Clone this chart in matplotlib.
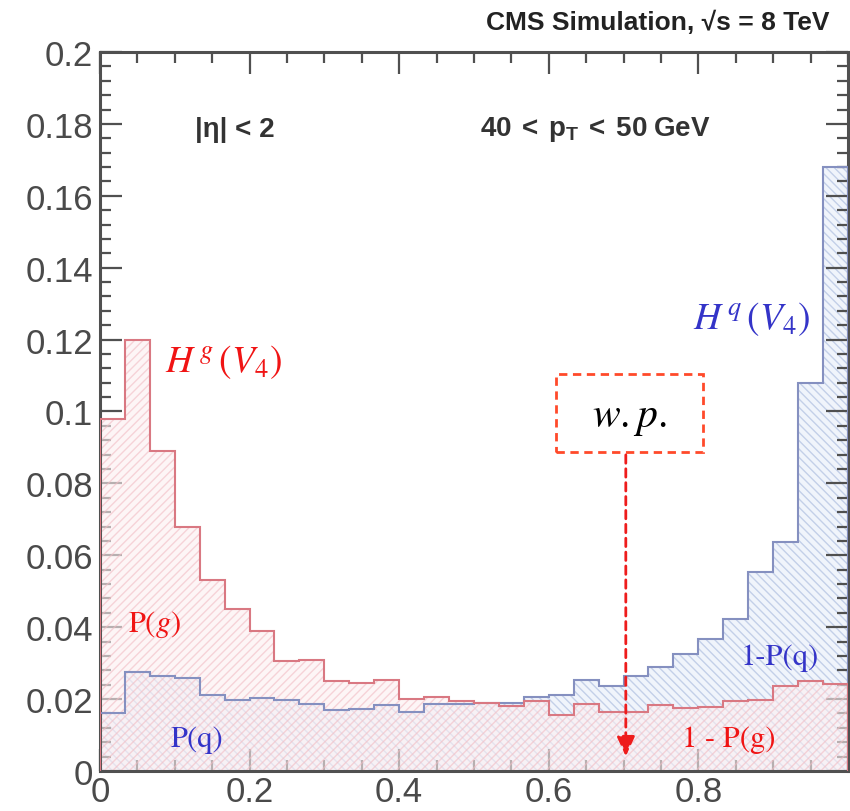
import numpy as np
import matplotlib
matplotlib.use("Agg")
import matplotlib.pyplot as plt
from matplotlib.patches import Rectangle

# V4 discriminant histograms, 30 bins on [0, 1]
bin_edges = np.linspace(0.0, 1.0, 31)
gluon = [0.098, 0.120, 0.089, 0.068, 0.053, 0.045, 0.039, 0.0305, 0.031, 0.025,
         0.0244, 0.0254, 0.020, 0.0205, 0.0194, 0.019, 0.018, 0.0194, 0.0155, 0.0185,
         0.0163, 0.0163, 0.0183, 0.0174, 0.0178, 0.0195, 0.0197, 0.0236, 0.025, 0.0241]
quark = [0.016, 0.0275, 0.0263, 0.026, 0.0212, 0.0198, 0.0204, 0.0198, 0.0185, 0.017,
         0.0172, 0.0183, 0.0165, 0.0185, 0.0185, 0.0188, 0.019, 0.0205, 0.021, 0.0254,
         0.0236, 0.0264, 0.029, 0.0324, 0.0366, 0.0422, 0.0553, 0.0638, 0.108, 0.168]

xticks = [0, 0.2, 0.4, 0.6, 0.8]
xticklabels = ["0", "0.2", "0.4", "0.6", "0.8"]
yticks = [0, 0.02, 0.04, 0.06, 0.08, 0.1, 0.12, 0.14, 0.16, 0.18, 0.2]
yticklabels = ["0", "0.02", "0.04", "0.06", "0.08", "0.1", "0.12", "0.14", "0.16", "0.18", "0.2"]

working_point = 0.703

plt.rcParams["font.family"] = ["Liberation Sans", "DejaVu Sans"]
plt.rcParams["mathtext.fontset"] = "custom"
plt.rcParams["mathtext.rm"] = "STIXGeneral"
plt.rcParams["mathtext.it"] = "STIXGeneral:italic"
plt.rcParams["mathtext.bf"] = "STIXGeneral:bold"
plt.rcParams["mathtext.sf"] = "Liberation Sans:bold"
plt.rcParams["hatch.linewidth"] = 1.0

fig = plt.figure(figsize=(8.5, 8.12), dpi=100)
ax = fig.add_axes([0.1176, 0.0493, 0.88, 0.8854])

# filled hatched areas
ax.stairs(quark, bin_edges, fill=True, facecolor="#f0f4fb", edgecolor="#c3cfe8",
          hatch="\\\\\\\\", linewidth=0, zorder=1)
ax.stairs(gluon, bin_edges, fill=True, facecolor="#fdeff1", edgecolor="#f2bcc3",
          hatch="////", linewidth=0, alpha=0.6, zorder=2)
# outlines
ax.stairs(quark, bin_edges, color="#8590c0", linewidth=1.5, zorder=3)
ax.stairs(gluon, bin_edges, color="#d97882", linewidth=1.5, zorder=4)

ax.set_xlim(0, 1)
ax.set_ylim(0, 0.2)
ax.set_xticks(xticks)
ax.set_xticklabels(xticklabels)
ax.set_yticks(yticks)
ax.set_yticklabels(yticklabels)
ax.xaxis.set_minor_locator(matplotlib.ticker.MultipleLocator(0.05))
ax.yaxis.set_minor_locator(matplotlib.ticker.MultipleLocator(0.004))

for sp in ax.spines.values():
    sp.set_linewidth(2.2)
    sp.set_color("#505050")
ax.tick_params(which="both", direction="in", top=True, right=True,
               color="#505050", width=1.6, labelcolor="#4a4a4a", labelsize=25)
ax.tick_params(which="major", length=16)
ax.tick_params(which="minor", length=8)
ax.tick_params(axis="x", pad=3)
ax.tick_params(axis="y", pad=5)

# header and cut labels
fig.text(0.976, 0.9717, "CMS Simulation, √s = 8 TeV", ha="right", va="center",
         fontsize=19, fontweight="bold", color="#222222")
ax.text(0.127, 0.1786, "|η| < 2", ha="left", va="center", fontsize=20,
        fontweight="bold", color="#333333")
ax.text(0.508, 0.1786, r"$\mathsf{40\ <\ p_{T}\ <\ 50\ GeV}$", ha="left", va="center",
        fontsize=20, color="#333333")

# histogram labels
red = "#f01414"
blue = "#3434c8"
ax.text(0.087, 0.114, r"$H^{\,g}\,(V_4)$", ha="left", va="center", fontsize=27, color=red)
ax.text(0.793, 0.126, r"$H^{\,q}\,(V_4)$", ha="left", va="center", fontsize=27, color=blue)
ax.text(0.037, 0.041, r"$\mathrm{P}(g)$", ha="left", va="center", fontsize=22, color=red)
ax.text(0.094, 0.0089, "P(q)", ha="left", va="center", fontsize=22, color=blue,
        family="STIXGeneral")
ax.text(0.856, 0.0317, "1-P(q)", ha="left", va="center", fontsize=22, color=blue,
        family="STIXGeneral")
ax.text(0.778, 0.0089, "1 - P(g)", ha="left", va="center", fontsize=22, color=red,
        family="STIXGeneral")

# working point box and arrow
ax.add_patch(Rectangle((0.61, 0.0887), 0.196, 0.0217, fill=False, edgecolor="#ff4a2a",
                       linestyle=(0, (3, 2)), linewidth=2.0, zorder=6))
ax.text(0.708, 0.0985, r"$w.p.$", ha="center", va="center", fontsize=30, color="black",
        zorder=6)
ax.annotate("", xy=(working_point, 0.0033), xytext=(working_point, 0.0887),
            arrowprops=dict(arrowstyle="-|>,head_length=1.2,head_width=0.55",
                            color="#ee1c1c", linestyle=(0, (3, 2)), linewidth=2.0),
            zorder=7)

fig.savefig("out.png", dpi=100)
